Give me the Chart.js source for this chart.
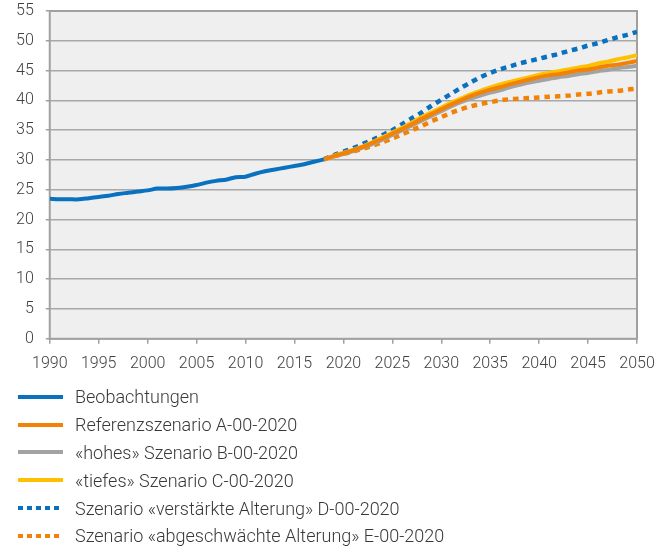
<!DOCTYPE html>
<html>
<head>
<meta charset="utf-8">
<script src="https://cdn.jsdelivr.net/npm/chart.js@4"></script>
<style>
    body { margin: 0; background: #fff; font-family: Roboto, sans-serif; }
    #wrap { position: relative; width: 672px; height: 548px; }
    #chartBox { position: absolute; left: 0; top: 0; width: 672px; height: 385px; }
    #legend { position: absolute; left: 18px; top: 383px; }
    .leg-row { display: flex; align-items: center; height: 27.8px; }
    .leg-row svg { width: 45px; height: 6px; margin-right: 12px; }
    .leg-row span { font-size: 18px; font-weight: 300; color: #383838; white-space: nowrap; }
</style>
</head>
<body>
<div id="wrap">
    <div id="chartBox"><canvas id="ageChart"></canvas></div>
    <div id="legend"></div>
</div>
<script>
// Observed values 1990-2018
const obsYears = [1990, 1991, 1992, 1993, 1994, 1995, 1996, 1997, 1998, 1999,
    2000, 2001, 2002, 2003, 2004, 2005, 2006, 2007, 2008, 2009,
    2010, 2011, 2012, 2013, 2014, 2015, 2016, 2017, 2018];
const obsValues = [23.5, 23.4, 23.4, 23.4, 23.6, 23.8, 24.0, 24.3, 24.5, 24.7,
    24.9, 25.2, 25.2, 25.3, 25.5, 25.8, 26.2, 26.5, 26.7, 27.1,
    27.2, 27.7, 28.1, 28.4, 28.7, 29.0, 29.3, 29.7, 30.1];

// Scenario values 2018-2050
const projYears = [2018, 2019, 2020, 2021, 2022, 2023, 2024, 2025, 2026, 2027,
    2028, 2029, 2030, 2031, 2032, 2033, 2034, 2035, 2036, 2037,
    2038, 2039, 2040, 2041, 2042, 2043, 2044, 2045, 2046, 2047,
    2048, 2049, 2050];
const scenA = [30.1, 30.6, 31.1, 31.6, 32.2, 32.9, 33.6, 34.4, 35.2, 36.0,
    36.9, 37.7, 38.5, 39.3, 40.0, 40.7, 41.3, 41.8, 42.2, 42.7,
    43.1, 43.5, 43.9, 44.2, 44.4, 44.7, 45.0, 45.2, 45.5, 45.8,
    46.0, 46.3, 46.6];
const scenB = [30.1, 30.6, 31.0, 31.5, 32.1, 32.7, 33.4, 34.2, 35.0, 35.8,
    36.6, 37.4, 38.2, 39.0, 39.7, 40.3, 40.8, 41.3, 41.7, 42.2,
    42.6, 43.0, 43.3, 43.6, 43.9, 44.1, 44.4, 44.6, 44.9, 45.1,
    45.4, 45.6, 45.8];
const scenC = [30.1, 30.7, 31.2, 31.7, 32.3, 33.0, 33.8, 34.6, 35.4, 36.3,
    37.2, 38.0, 38.8, 39.6, 40.3, 41.0, 41.6, 42.2, 42.7, 43.1,
    43.5, 43.9, 44.3, 44.6, 44.9, 45.2, 45.5, 45.8, 46.2, 46.5,
    46.9, 47.2, 47.6];
const scenD = [30.1, 30.8, 31.4, 32.0, 32.7, 33.4, 34.2, 35.0, 36.0, 37.0,
    38.0, 39.1, 40.1, 41.1, 42.1, 43.0, 43.9, 44.6, 45.2, 45.7,
    46.2, 46.6, 47.0, 47.4, 47.8, 48.3, 48.7, 49.2, 49.6, 50.1,
    50.6, 51.0, 51.5];
const scenE = [30.1, 30.6, 31.0, 31.4, 31.9, 32.4, 33.0, 33.6, 34.3, 35.0,
    35.7, 36.5, 37.2, 37.9, 38.5, 39.0, 39.4, 39.7, 40.0, 40.2,
    40.3, 40.4, 40.5, 40.6, 40.7, 40.8, 41.0, 41.1, 41.3, 41.5,
    41.6, 41.8, 42.0];

const yTicks = [0, 5, 10, 15, 20, 25, 30, 35, 40, 45, 50, 55];
const xTicks = [1990, 1995, 2000, 2005, 2010, 2015, 2020, 2025, 2030, 2035, 2040, 2045, 2050];

const BLUE = '#0a70c0';
const ORANGE = '#f28205';
const GREY = '#a3a3a3';
const YELLOW = '#ffc000';

function pts(years, vals) {
    return years.map((y, i) => ({ x: y, y: vals[i] }));
}

const seriesDefs = [
    { label: 'Beobachtungen', years: obsYears, vals: obsValues, color: BLUE, dash: [] },
    { label: 'Referenzszenario A-00-2020', years: projYears, vals: scenA, color: ORANGE, dash: [] },
    { label: '«hohes» Szenario B-00-2020', years: projYears, vals: scenB, color: GREY, dash: [] },
    { label: '«tiefes» Szenario C-00-2020', years: projYears, vals: scenC, color: YELLOW, dash: [] },
    { label: 'Szenario «verstärkte Alterung» D-00-2020', years: projYears, vals: scenD, color: BLUE, dash: [5.5, 5] },
    { label: 'Szenario «abgeschwächte Alterung» E-00-2020', years: projYears, vals: scenE, color: ORANGE, dash: [5.5, 5] }
];

// Plot background and frame
const frame = {
    id: 'frame',
    beforeDraw(chart) {
        const { ctx, chartArea: a } = chart;
        ctx.save();
        ctx.fillStyle = '#efefef';
        ctx.fillRect(a.left, a.top, a.right - a.left, a.bottom - a.top);
        ctx.restore();
    },
    beforeDatasetsDraw(chart) {
        const { ctx, chartArea: a } = chart;
        ctx.save();
        ctx.strokeStyle = '#a0a0a0';
        ctx.lineWidth = 2;
        ctx.strokeRect(a.left, a.top, a.right - a.left, a.bottom - a.top);
        ctx.restore();
    }
};

const ctx = document.getElementById('ageChart').getContext('2d');
const chart = new Chart(ctx, {
    type: 'line',
    data: {
        datasets: seriesDefs.map(s => ({
            label: s.label,
            data: pts(s.years, s.vals),
            borderColor: s.color,
            backgroundColor: s.color,
            borderWidth: s.dash.length ? 4.5 : 4,
            borderDash: s.dash,
            borderCapStyle: 'butt',
            pointRadius: 0,
            tension: 0.3,
            fill: false
        }))
    },
    options: {
        responsive: true,
        maintainAspectRatio: false,
        animation: false,
        layout: { padding: { left: 4, right: 35, top: 11, bottom: 0 } },
        plugins: { legend: { display: false }, tooltip: { enabled: false } },
        scales: {
            x: {
                type: 'linear',
                min: 1990,
                max: 2050,
                afterBuildTicks: axis => { axis.ticks = xTicks.map(v => ({ value: v })); },
                ticks: {
                    callback: v => String(v),
                    color: '#404040',
                    font: { family: 'Roboto', size: 16, weight: 300 },
                    padding: 11,
                    maxRotation: 0
                },
                grid: { drawOnChartArea: false, tickLength: 5, tickColor: '#a0a0a0', lineWidth: 1.5 },
                border: { display: false }
            },
            y: {
                min: 0,
                max: 55,
                afterBuildTicks: axis => { axis.ticks = yTicks.map(v => ({ value: v })); },
                afterFit: axis => { axis.paddingTop = 0; axis.paddingBottom = 0; },
                ticks: {
                    color: '#404040',
                    font: { family: 'Roboto', size: 16, weight: 300 },
                    padding: 12
                },
                grid: { color: '#a8a8a8', lineWidth: 1.5, tickLength: 4, tickColor: '#a0a0a0' },
                border: { display: false }
            }
        }
    },
    plugins: [frame]
});

// Legend, one entry per row
const legend = document.getElementById('legend');
seriesDefs.forEach(s => {
    const row = document.createElement('div');
    row.className = 'leg-row';
    const dash = s.dash.length ? `stroke-dasharray="5 4"` : '';
    row.innerHTML = `
        <svg viewBox="0 0 45 6"><line x1="0" y1="3" x2="45" y2="3" stroke="${s.color}" stroke-width="4" ${dash}/></svg>
        <span>${s.label}</span>
    `;
    legend.appendChild(row);
});
</script>
</body>
</html>
